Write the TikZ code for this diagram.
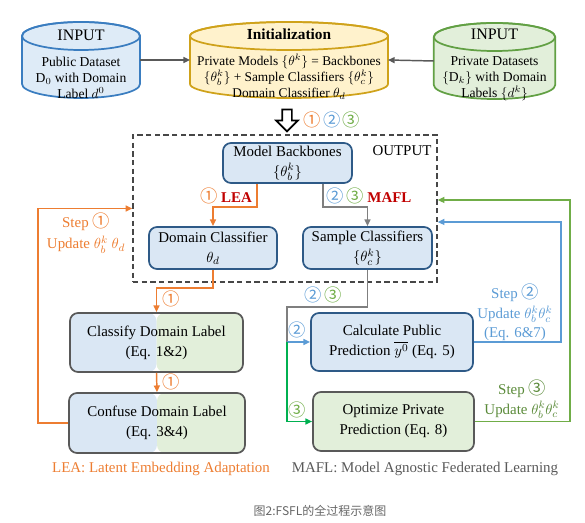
\documentclass[tikz,border=0pt]{standalone}
\usepackage{fontspec}
\setmainfont{Liberation Serif}
\newfontfamily\cjkfont{Noto Sans CJK SC}
\usetikzlibrary{arrows.meta,positioning,shapes.arrows,calc}
\definecolor{cylblue}{HTML}{DEEBF7}
\definecolor{cylblueline}{HTML}{3A7DC0}
\definecolor{cylyellow}{HTML}{FFF2CC}
\definecolor{cylyellowline}{HTML}{CFA21A}
\definecolor{cylgreen}{HTML}{E2EFDA}
\definecolor{cylgreenline}{HTML}{62A044}
\definecolor{boxfill}{HTML}{DAE7F4}
\definecolor{boxline}{HTML}{2E5A87}
\definecolor{boxgray}{HTML}{595959}
\definecolor{greenfill}{HTML}{E2EFDA}
\definecolor{leaorange}{HTML}{ED7D31}
\definecolor{leared}{HTML}{C00000}
\definecolor{stepblue}{HTML}{5B9BD5}
\definecolor{stepgreen}{HTML}{70AD47}
\definecolor{brightgreen}{HTML}{00B050}
\definecolor{flowgray}{HTML}{7F7F7F}
\newcommand{\cnum}[1]{{\cjkfont\fontsize{13}{13}\selectfont #1}}
% cylinder drawn round a frame node: node, fill, line, half width
\newcommand{\cylback}[4]{%
  \filldraw[fill=#2, draw=#3, line width=1.3pt]
    ([yshift=-10.5pt]#1.north west) -- ([yshift=10.5pt]#1.south west)
    arc[start angle=180, end angle=360, x radius=#4, y radius=10.5pt]
    -- ([yshift=-10.5pt]#1.north east)
    arc[start angle=0, end angle=180, x radius=#4, y radius=10.5pt] -- cycle;
  \draw[draw=#3, line width=1.3pt] ([yshift=-10.5pt]#1.north) ellipse[x radius=#4, y radius=10.5pt];}

\begin{document}
\begin{tikzpicture}[x=0.75pt,y=-0.75pt,
  cylframe/.style={inner sep=0pt, outer sep=0pt, minimum height=57pt},
  cyltext/.style={align=center, inner sep=0pt,
    font=\fontsize{10.2}{12}\selectfont},
  boxbase/.style={rounded corners=6pt, line width=1.3pt, align=center,
    inner sep=2pt, font=\fontsize{11.2}{15}\selectfont},
  bluebox/.style={boxbase, draw=boxline, fill=boxfill},
  greenbox/.style={boxbase, draw=boxgray, fill=greenfill},
  halfbox/.style={boxbase, draw=boxgray,
    path picture={
      \fill[boxfill] (path picture bounding box.south west) rectangle (path picture bounding box.north);
      \fill[greenfill] (path picture bounding box.south) rectangle (path picture bounding box.north east);}},
  arr/.style={line width=1.1pt, -{Triangle[length=5pt,width=4.5pt]}},
  lbl/.style={font=\fontsize{11.2}{14}\selectfont, align=center}]
  \useasboundingbox (0,0) rectangle (585,523);

  % inputs and initialization
  \node[cylframe, minimum width=88.5pt] (pub) at (81,60) {};
  \cylback{pub}{cylblue}{cylblueline}{44.25pt}
  \node[cyltext] (pubtxt) at (81,64)
    {{\fontsize{12}{12}\selectfont INPUT}\\[7.5pt]Public Dataset\\D$_0$ with Domain\\Label $d^0$};
  \node[cylframe, minimum width=148.5pt] (init) at (289,60) {};
  \cylback{init}{cylyellow}{cylyellowline}{74.25pt}
  \node[cyltext, font=\fontsize{10}{12}\selectfont] (inittxt) at (289,64)
    {{\fontsize{11.5}{12}\selectfont\textbf{Initialization}}\\[7.5pt]Private Models $\{\theta^k\}$ = Backbones\\
     $\{\theta_b^k\}$ + Sample Classifiers $\{\theta_c^k\}$\\Domain Classifier $\theta_d$};
  \node[cylframe, minimum width=91pt] (priv) at (494.5,61) {};
  \cylback{priv}{cylgreen}{cylgreenline}{45.5pt}
  \node[cyltext] (privtxt) at (494.5,65)
    {{\fontsize{12}{12}\selectfont INPUT}\\[7.5pt]Private Datasets\\$\{\mathrm{D}_k\}$ with Domain\\Labels $\{d^k\}$};
  \draw[arr, draw=boxgray] (pub.east) -- (init.west);
  \draw[arr, draw=boxgray] (priv.west) -- (init.east);

  \node[single arrow, draw, fill=white, line width=1.3pt, shape border rotate=270,
    minimum height=16.5pt, inner sep=3pt, single arrow head extend=4.5pt] (down) at (287,118) {};
  \node (allsteps) at (332,120)
    {\textcolor{leaorange}{\cnum{①}}\,\textcolor{stepblue}{\cnum{②}}\,\textcolor{stepgreen}{\cnum{③}}};

  % output
  \node[draw=boxgray!80!black, dashed, dash pattern=on 4pt off 2.5pt, line width=1.1pt,
    minimum width=228pt, minimum height=110.25pt] (outbox) at (285,208.5) {};
  \node[lbl] (outlbl) at (402,151) {OUTPUT};
  \node[bluebox, minimum width=96.75pt, minimum height=30pt] (mb) at (287.5,163) {Model Backbones\\$\{\theta_b^k\}$};
  \node[bluebox, minimum width=96pt, minimum height=31.5pt] (dc) at (213,248) {Domain Classifier\\$\theta_d$};
  \node[bluebox, minimum width=96.75pt, minimum height=31.5pt] (sc) at (367.5,248) {Sample Classifiers\\$\{\theta_c^k\}$};

  \draw[arr, draw=leaorange] ([xshift=-22.9pt]mb.south) -- ++(0,23) -| (dc.north);
  \node[lbl] (lealbl) at (226,196) {\textcolor{leaorange}{\cnum{①}} \textcolor{leared}{\textbf{LEA}}};
  \draw[arr, draw=flowgray] ([xshift=26.6pt]mb.south) -- ++(0,23) -| (sc.north);
  \node[lbl] (mafllbl) at (369,196) {\textcolor{stepblue}{\cnum{②}}\,\textcolor{stepgreen}{\cnum{③}} \textcolor{leared}{\textbf{MAFL}}};

  % LEA
  \node[halfbox, minimum width=129.75pt, minimum height=44.25pt] (cdl) at (156.5,342.5) {Classify Domain Label\\(Eq. 1\&2)};
  \node[halfbox, minimum width=132pt, minimum height=45pt] (cfdl) at (157,423) {Confuse Domain Label\\(Eq. 3\&4)};
  \draw[arr, draw=leaorange] (dc.south) -- ++(0,18) -| (cdl.north);
  \node[text=leaorange] (one1) at (171,299) {\cnum{①}};
  \draw[arr, draw=leaorange] (cdl.south) -- (cfdl.north);
  \node[text=leaorange] (one2) at (171,382) {\cnum{①}};
  \draw[arr, draw=leaorange] (cfdl.west) -- ++(-30,0) |- (outbox.west);
  \node[lbl, text=leaorange] (step1) at (86,233) {Step \cnum{①}\\[2pt]Update $\theta_b^k\ \theta_d$};

  % MAFL
  \node[bluebox, minimum width=121.5pt, minimum height=43.5pt] (cpp) at (392,342) {Calculate Public\\Prediction $\overline{y^0}$ (Eq. 5)};
  \node[greenbox, minimum width=120.75pt, minimum height=44.25pt] (opp) at (393.5,421.5) {Optimize Private\\Prediction (Eq. 8)};
  \coordinate (split) at (287,342);
  \draw[line width=1.1pt, draw=flowgray] (sc.south) -- ++(0,37) -| (split);
  \node (twothree) at (323,295) {\textcolor{stepblue}{\cnum{②}}\,\textcolor{stepgreen}{\cnum{③}}};
  \draw[arr, draw=stepblue] (split) -- (cpp.west);
  \node[text=stepblue] (two1) at (297,330) {\cnum{②}};
  \draw[arr, draw=brightgreen] (split) |- (opp.west);
  \node[text=stepgreen] (three1) at (297,410) {\cnum{③}};
  \draw[arr, draw=stepblue] (cpp.east) -- ++(87,0) |- ([yshift=-10.1pt]outbox.east);
  \node[lbl, text=stepblue] (step2) at (515,312) {Step \cnum{②}\\[1pt]Update $\theta_b^k\theta_c^k$\\(Eq. 6\&7)};
  \draw[arr, draw=stepgreen] (opp.east) -- ++(95,0) |- ([yshift=6.4pt]outbox.east);
  \node[lbl, text=stepgreen!80!black] (step3) at (522,399) {Step \cnum{③}\\[1pt]Update $\theta_b^k\theta_c^k$};

  % captions
  \node[lbl, text=leaorange] (leacap) at (161,469) {LEA: Latent Embedding Adaptation};
  \node[lbl, text=boxgray] (maflcap) at (425,469) {MAFL: Model Agnostic Federated Learning};
  \node[font=\cjkfont\fontsize{9}{10}\selectfont, text=black!60] (figcap) at (320,511) {图2:FSFL的全过程示意图};
\end{tikzpicture}
\end{document}
